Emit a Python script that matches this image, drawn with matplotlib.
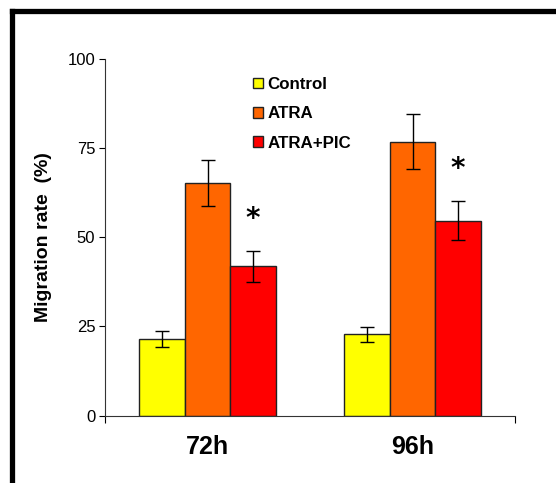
import numpy as np
import matplotlib.pyplot as plt
from matplotlib.lines import Line2D

plt.rcParams['font.family'] = ['Liberation Sans', 'DejaVu Sans']

groups = ["72h", "96h"]
series = ["Control", "ATRA", "ATRA+PIC"]
control = [21.5, 22.8]
atra = [65.2, 76.7]
atra_pic = [41.8, 54.6]
control_err = [2.3, 2.1]
atra_err = [6.5, 7.7]
atra_pic_err = [4.3, 5.5]
star_groups = [0, 1]   # asterisks over ATRA+PIC
colors = ["#FFFF00", "#FF6600", "#FF0000"]

fig = plt.figure(figsize=(5.56, 4.83), dpi=100)
ax = fig.add_axes([0.189, 0.1393, 0.7374, 0.7392])

# frame around the figure (only top and left visible in the original)
fig.add_artist(Line2D([0.021, 0.021], [0.0, 0.977], color='black', lw=3.8,
                      transform=fig.transFigure, solid_capstyle='projecting'))
fig.add_artist(Line2D([0.021, 1.0], [0.977, 0.977], color='black', lw=3.8,
                      transform=fig.transFigure, solid_capstyle='projecting'))

x = np.arange(len(groups)) + 0.5
w = 0.222
vals = [control, atra, atra_pic]
errs = [control_err, atra_err, atra_pic_err]
for i, (v, e) in enumerate(zip(vals, errs)):
    pos = x + (i - 1) * w
    ax.bar(pos, v, width=w, color=colors[i], edgecolor='#222222', linewidth=1.0,
           label=series[i], zorder=2)
    ax.errorbar(pos, v, yerr=e, fmt='none', ecolor='black', elinewidth=1.0,
                capsize=4.7, capthick=1.0, zorder=3)

for g in star_groups:
    ax.text(x[g] + w, atra_pic[g] + atra_pic_err[g] + 9, "*", ha='center', va='center',
            fontsize=20, fontweight='bold', family='DejaVu Sans')

ax.set_xlim(0, 2)
ax.set_ylim(0, 100)
ax.set_yticks([0, 25, 50, 75, 100])
ax.tick_params(axis='y', direction='out', length=4, width=0.8, labelsize=12, pad=3)
ax.set_xticks(x)
ax.set_xticklabels(groups, fontsize=18, fontweight='bold')
ax.tick_params(axis='x', which='major', length=0, pad=14)
ax.set_xticks([0, 2], minor=True)
ax.tick_params(axis='x', which='minor', direction='out', length=5, width=0.8)

for s in ['top', 'right']:
    ax.spines[s].set_visible(False)
for s in ['left', 'bottom']:
    ax.spines[s].set_color('#333333')
    ax.spines[s].set_linewidth(0.8)

ax.set_ylabel("Migration rate  (%)", fontsize=14, fontweight='bold', labelpad=11)

ax.legend(loc='upper left', bbox_to_anchor=(0.345, 0.968), frameon=False,
          prop={'weight': 'bold', 'size': 12.2}, handlelength=0.55, handleheight=0.6,
          handletextpad=0.3, labelspacing=0.85, borderaxespad=0)

fig.savefig("out.png", dpi=100)
